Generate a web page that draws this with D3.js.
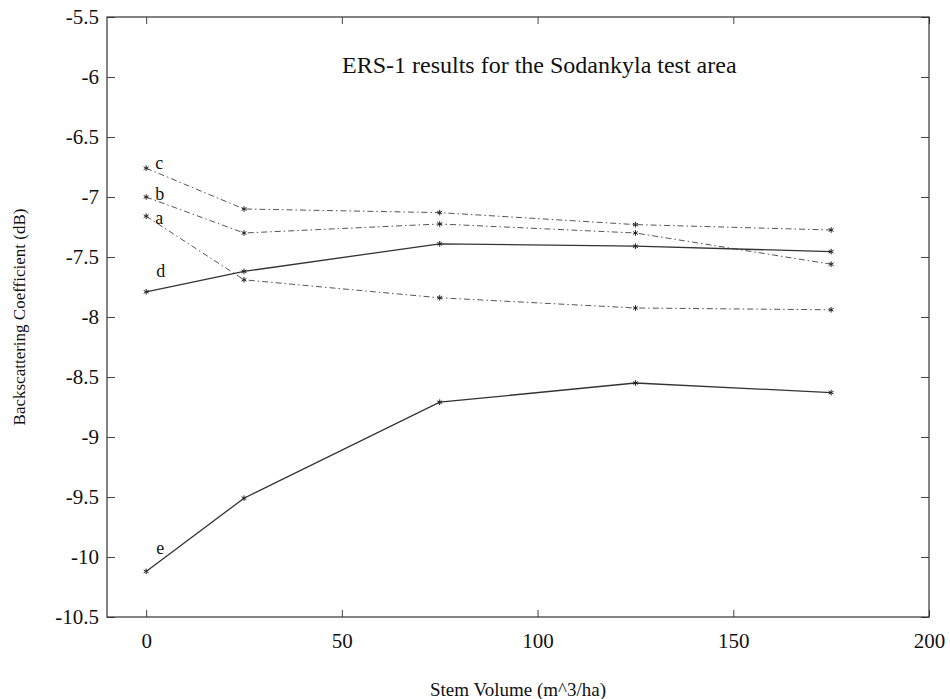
<!DOCTYPE html>
<html>
<head>
<meta charset="utf-8">
<script src="https://cdn.jsdelivr.net/npm/d3@7"></script>
<style>
  body { margin: 0; background: #fff; }
  svg text { font-family: "Liberation Serif", "Times New Roman", Times, "DejaVu Serif", serif !important; fill: #111; }
</style>
</head>
<body>
<div id="chart"></div>
<script>
const stemVolume = [0, 25, 75, 125, 175];
const seriesA = [-7.16, -7.69, -7.84, -7.925, -7.94];
const seriesB = [-7.0, -7.30, -7.225, -7.30, -7.56];
const seriesC = [-6.76, -7.10, -7.13, -7.23, -7.275];
const seriesD = [-7.79, -7.62, -7.39, -7.41, -7.455];
const seriesE = [-10.12, -9.51, -8.71, -8.55, -8.63];
const xTicks = [0, 50, 100, 150, 200];
const yTicks = [-5.5, -6, -6.5, -7, -7.5, -8, -8.5, -9, -9.5, -10, -10.5];

const series = [
    { name: "a", values: seriesA, dash: "6,3,1.5,3" },
    { name: "b", values: seriesB, dash: "6,3,1.5,3" },
    { name: "c", values: seriesC, dash: "6,3,1.5,3" },
    { name: "d", values: seriesD, dash: null },
    { name: "e", values: seriesE, dash: null }
];

const W = 950, H = 699;
const margin = { top: 17, right: 21, bottom: 82, left: 107 };
const width = W - margin.left - margin.right;
const height = H - margin.top - margin.bottom;

const svg = d3.select("#chart").append("svg")
    .attr("width", W)
    .attr("height", H)
    .append("g")
    .attr("transform", `translate(${margin.left},${margin.top})`);

const x = d3.scaleLinear().domain([-10, 200]).range([0, width]);
const y = d3.scaleLinear().domain([-10.5, -5.5]).range([height, 0]);

const fmt = d => String(d);

// bottom + top ticks, pointing inward
svg.append("g")
    .attr("transform", `translate(0,${height})`)
    .call(d3.axisBottom(x).tickValues(xTicks).tickSize(-7).tickPadding(16).tickFormat(fmt))
    .call(g => g.select(".domain").remove());
svg.append("g")
    .call(d3.axisTop(x).tickValues(xTicks).tickSize(-7).tickFormat(""))
    .call(g => g.select(".domain").remove());

// left + right ticks, pointing inward
svg.append("g")
    .call(d3.axisLeft(y).tickValues(yTicks).tickSize(-8).tickPadding(8).tickFormat(fmt))
    .call(g => g.select(".domain").remove());
svg.append("g")
    .attr("transform", `translate(${width},0)`)
    .call(d3.axisRight(y).tickValues(yTicks).tickSize(-8).tickFormat(""))
    .call(g => g.select(".domain").remove());

svg.selectAll("g").attr("font-family", null);
svg.selectAll(".tick line").attr("stroke", "#444").attr("stroke-width", 1);
svg.selectAll(".tick text")
    .style("font-size", "21px")
    .attr("fill", "#111");

svg.append("rect")
    .attr("x", 0).attr("y", 0)
    .attr("width", width).attr("height", height)
    .attr("fill", "none")
    .attr("stroke", "#333")
    .attr("stroke-width", 1.2);

const line = d3.line()
    .x((d, i) => x(stemVolume[i]))
    .y(d => y(d));

series.forEach(s => {
    svg.append("path")
        .datum(s.values)
        .attr("d", line)
        .attr("fill", "none")
        .attr("stroke", s.dash ? "#555" : "#333")
        .attr("stroke-width", s.dash ? 1 : 1.3)
        .attr("stroke-dasharray", s.dash);

    svg.selectAll(null)
        .data(s.values)
        .enter()
        .append("path")
        .attr("d", d3.symbol(d3.symbolAsterisk, 22))
        .attr("transform", (d, i) => `translate(${x(stemVolume[i])},${y(d)})`)
        .attr("fill", "none")
        .attr("stroke", "#222")
        .attr("stroke-width", 1);
});

// series labels next to the first point
const labelPos = { a: [9, 1], b: [9, -3], c: [9, -6], d: [10, -21], e: [10, -24] };
series.forEach(s => {
    const [dx, dy] = labelPos[s.name];
    svg.append("text")
        .attr("x", x(stemVolume[0]) + dx)
        .attr("y", y(s.values[0]) + dy)
        .attr("dy", "0.35em")
        .style("font-size", "18px")
        .text(s.name);
});

svg.append("text")
    .attr("x", 235)
    .attr("y", 56)
    .style("font-size", "24px")
    .text("ERS-1 results for the Sodankyla test area");

svg.append("text")
    .attr("x", x(95))
    .attr("y", height + 79)
    .attr("text-anchor", "middle")
    .style("font-size", "19px")
    .text("Stem Volume (m^3/ha)");

svg.append("text")
    .attr("transform", `translate(${-82},${height / 2}) rotate(-90)`)
    .attr("text-anchor", "middle")
    .style("font-size", "17px")
    .text("Backscattering Coefficient (dB)");
</script>
</body>
</html>
